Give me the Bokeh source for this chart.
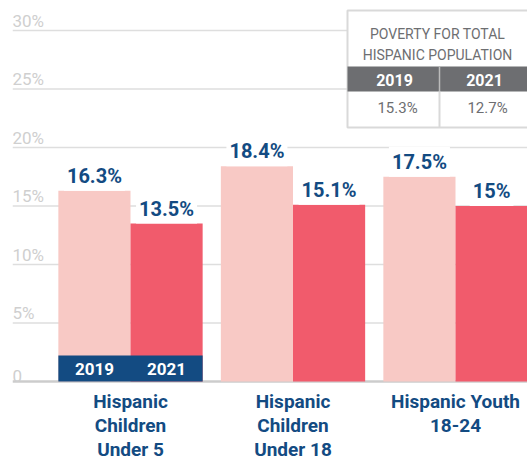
from bokeh.plotting import figure
from bokeh.core.properties import value
from bokeh.embed import file_html
from bokeh.resources import INLINE

# ---------------- data ----------------
categories = ["Hispanic\nChildren\nUnder 5", "Hispanic\nChildren\nUnder 18", "Hispanic Youth\n18-24"]
years = ["2019", "2021"]
poverty_2019 = [16.3, 18.4, 17.5]
poverty_2021 = [13.5, 15.1, 15.0]
labels_2019 = ["16.3%", "18.4%", "17.5%"]
labels_2021 = ["13.5%", "15.1%", "15%"]
y_ticks = [0, 5, 10, 15, 20, 25, 30]
y_tick_labels = ["0", "5%", "10%", "15%", "20%", "25%", "30%"]
table_title = ["POVERTY FOR TOTAL", "HISPANIC POPULATION"]
table_years = ["2019", "2021"]
table_values = ["15.3%", "12.7%"]

# ---------------- styling ----------------
FONT = value("Roboto")
NAVY = "#134b82"
PINK_LIGHT = "#f8c9c5"
PINK_DARK = "#f15b6c"
GRID = "#dedede"
TICK = "#cfcfcf"
TABLE_GRAY = "#6d6e71"

# canvas-pixel -> data helpers (annotation placement only)
PX_PER_X = 162.5
X0_PX = 130.0
PX_PER_Y = 11.7
Y0_PX = 381.0


def xd(px):
    return (px - X0_PX) / PX_PER_X


def yd(py):
    return (Y0_PX - py) / PX_PER_Y


W, H = 527, 461
p = figure(width=W, height=H,
           x_range=(xd(12), xd(W)), y_range=(yd(H), yd(0)),
           output_backend="svg", toolbar_location=None,
           x_axis_location=None, y_axis_location=None,
           min_border=0, min_border_left=12, outline_line_color=None)
p.background_fill_color = "white"
p.border_fill_color = "white"
for g in p.grid:
    g.visible = False
    g.grid_line_color = None

x_left = xd(12)
x_right = xd(W)

# gridlines
p.segment(x0=[x_left] * (len(y_ticks) - 1), x1=[x_right] * (len(y_ticks) - 1),
          y0=y_ticks[1:], y1=y_ticks[1:], line_color=GRID, line_width=1.5)
p.segment(x0=[x_left], x1=[x_right], y0=[y_ticks[0]], y1=[y_ticks[0]],
          line_color="#cccccc", line_width=2.5)

# y tick labels (sit above gridlines)
p.text(x=[x_left] * len(y_ticks), y=y_ticks, text=y_tick_labels,
       text_font=FONT, text_font_size="17px", text_color=TICK,
       text_align="left", text_baseline="bottom", y_offset=0)

# bars
idx = list(range(len(categories)))
BW = 0.444
x19 = [i - BW / 2 for i in idx]
x21 = [i + BW / 2 for i in idx]
p.vbar(x=x19, top=poverty_2019, bottom=0, width=BW, fill_color=PINK_LIGHT, line_color=None)
p.vbar(x=x21, top=poverty_2021, bottom=0, width=BW, fill_color=PINK_DARK, line_color=None)

# value labels
p.text(x=x19 + x21, y=poverty_2019 + poverty_2021, text=labels_2019 + labels_2021,
       text_font=FONT, text_font_size="20px", text_font_style="bold", text_color=NAVY,
       text_align="center", text_baseline="bottom", y_offset=0,
       background_fill_color="white", padding=3)

# legend strip on the first group
p.quad(left=[x19[0] - BW / 2], right=[x21[0] + BW / 2], bottom=[0], top=[yd(355)],
       fill_color=NAVY, line_color=None)
p.text(x=[x19[0], x21[0]], y=[yd(368)] * 2, text=years,
       text_font=FONT, text_font_size="17px", text_font_style="bold", text_color="white",
       text_align="center", text_baseline="middle")

# category labels
p.text(x=idx, y=[0] * len(idx), text=categories,
       text_font=FONT, text_font_size="19px", text_font_style="bold", text_color=NAVY,
       text_align="center", text_baseline="top", y_offset=8, text_line_height=1.06)

# summary table (top right)
tl, tr = xd(347), xd(540)
p.quad(left=[tl], right=[tr], top=[yd(10)], bottom=[yd(127)],
       fill_color="white", line_color="#d9d9d9", line_width=2)
p.text(x=[xd(437)] * 2, y=[yd(33), yd(54)], text=table_title,
       text_font=FONT, text_font_size="14px", text_color=TABLE_GRAY,
       text_align="center", text_baseline="middle")
p.quad(left=[tl], right=[tr], top=[yd(66)], bottom=[yd(91)],
       fill_color=TABLE_GRAY, line_color=None)
p.segment(x0=[xd(439)], x1=[xd(439)], y0=[yd(66)], y1=[yd(91)], line_color="#bbbbbb", line_width=1.5)
p.segment(x0=[xd(439)], x1=[xd(439)], y0=[yd(91)], y1=[yd(127)], line_color="#d9d9d9", line_width=2)
p.text(x=[xd(394), xd(484)], y=[yd(79)] * 2, text=table_years,
       text_font=FONT, text_font_size="16px", text_font_style="bold", text_color="white",
       text_align="center", text_baseline="middle")
p.text(x=[xd(397), xd(487)], y=[yd(107)] * 2, text=table_values,
       text_font=FONT, text_font_size="15px", text_color=TABLE_GRAY,
       text_align="center", text_baseline="middle")

open("out.html", "w").write(file_html(p, INLINE))
